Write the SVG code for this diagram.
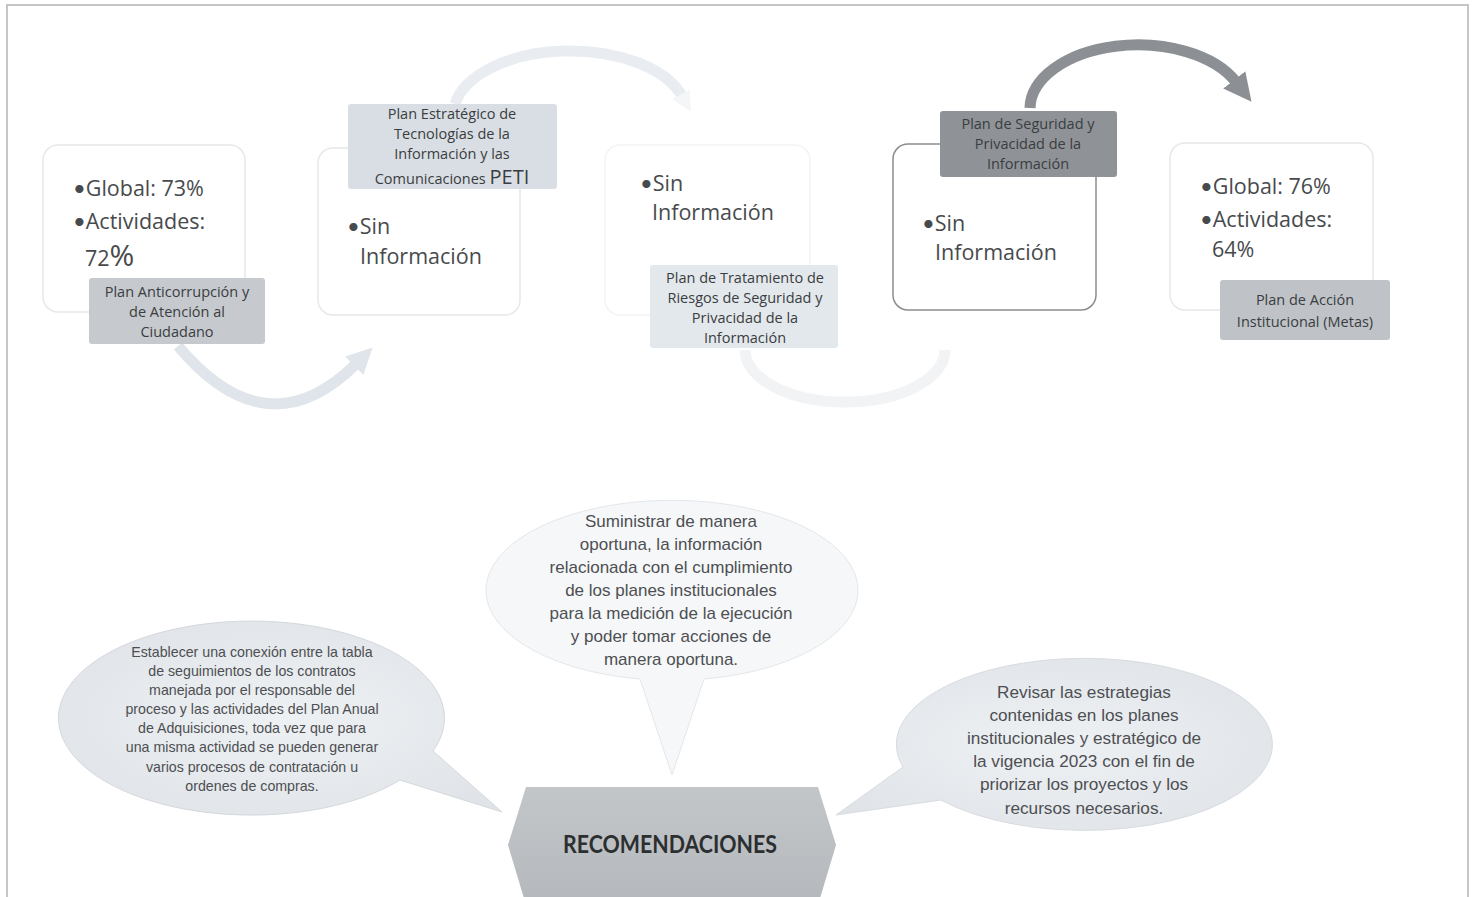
<svg xmlns="http://www.w3.org/2000/svg" width="1476" height="897" viewBox="0 0 1476 897">
<style>
.big{font-family:"Open Sans","Noto Sans",Lato,sans-serif;font-size:21.5px;fill:#474a4d}
.bl{font-family:Lato,"DejaVu Sans",sans-serif;font-size:22px}
.lab{font-family:"Open Sans","Noto Sans",Lato,sans-serif;font-size:14.5px;fill:#3a3d40;text-anchor:middle}
.box{fill:#fff;stroke:#e6e8ea;stroke-width:1.5}
.bub{font-family:"Liberation Sans Narrow","Liberation Sans",Arial,sans-serif;fill:#4d4f52;text-anchor:middle}
.arc{fill:none;stroke-width:11;stroke-linecap:butt}
</style>
<defs>
<marker id="hdFaint" markerUnits="userSpaceOnUse" markerWidth="26" markerHeight="26" viewBox="0 0 10 10" refX="1" refY="5" orient="auto"><path d="M0,0 L10,5 L0,10 z" fill="#dfe5ea"/></marker>
<marker id="hdFaint2" markerUnits="userSpaceOnUse" markerWidth="20" markerHeight="20" viewBox="0 0 10 10" refX="1" refY="5" orient="auto"><path d="M0,0 L10,5 L0,10 z" fill="#f4f6f8"/></marker>
<marker id="hdGray" markerUnits="userSpaceOnUse" markerWidth="28" markerHeight="28" viewBox="0 0 10 10" refX="1" refY="5" orient="auto"><path d="M0,0 L10,5 L0,10 z" fill="#8c9094"/></marker>
<linearGradient id="hexG" x1="0" y1="0" x2="0" y2="1"><stop offset="0" stop-color="#c3c6c9"/><stop offset="1" stop-color="#b4b8bc"/></linearGradient>
<radialGradient id="bubG" cx="0.5" cy="0.5" r="0.6"><stop offset="0" stop-color="#eef1f4"/><stop offset="1" stop-color="#e0e4e8"/></radialGradient>
</defs>
<rect x="7" y="5" width="1461" height="910" fill="#fff" stroke="#c6c6c6" stroke-width="2"/>

<g id="connectors">
<path class="arc" d="M178 346 Q267 452 356 364" stroke="#dfe5ea" marker-end="url(#hdFaint)"/>
<path class="arc" d="M455 104 A117 64 0 0 1 682 96" stroke="#e9edf1" marker-end="url(#hdFaint2)"/>
<path class="arc" d="M745 350 A100 52 0 0 0 945 350" stroke="#f1f3f5"/>
<path class="arc" d="M1030 108 A108 64 0 0 1 1236 82" stroke="#8c9094" marker-end="url(#hdGray)"/>
</g>

<g id="node1">
<rect class="box" x="43" y="145" width="202" height="167" rx="15"/>
<text class="big" x="73" y="196"><tspan class="bl">•</tspan>Global: 73%</text>
<text class="big" x="73" y="229"><tspan class="bl">•</tspan>Actividades:</text>
<text class="big" x="85" y="266">72<tspan font-size="30">%</tspan></text>
<rect x="89" y="278" width="176" height="66" rx="3" fill="#c6cacf"/>
<text class="lab" x="177" y="297">Plan Anticorrupción y</text>
<text class="lab" x="177" y="317">de Atención al</text>
<text class="lab" x="177" y="337">Ciudadano</text>
</g>

<g id="node2">
<rect class="box" x="318" y="148" width="202" height="167" rx="15"/>
<text class="big" x="347" y="234"><tspan class="bl">•</tspan>Sin</text>
<text class="big" x="360" y="264">Información</text>
<rect x="348" y="104" width="209" height="85" rx="3" fill="#d9dee4"/>
<text class="lab" x="452" y="119">Plan Estratégico de</text>
<text class="lab" x="452" y="139">Tecnologías de la</text>
<text class="lab" x="452" y="159">Información y las</text>
<text class="lab" x="452" y="184">Comunicaciones <tspan font-size="20">PETI</tspan></text>
</g>

<g id="node3">
<rect x="605" y="145" width="205" height="170" rx="15" fill="#fff" stroke="#f3f4f5" stroke-width="1.5"/>
<text class="big" x="640" y="191"><tspan class="bl">•</tspan>Sin</text>
<text class="big" x="652" y="220">Información</text>
<rect x="650" y="265" width="188" height="83" rx="3" fill="#e3e8ed"/>
<text class="lab" x="745" y="283">Plan de Tratamiento de</text>
<text class="lab" x="745" y="303">Riesgos de Seguridad y</text>
<text class="lab" x="745" y="323">Privacidad de la</text>
<text class="lab" x="745" y="343">Información</text>
</g>

<g id="node4">
<rect x="893" y="144" width="203" height="166" rx="15" fill="#fff" stroke="#8a8d90" stroke-width="1.5"/>
<text class="big" x="922" y="231"><tspan class="bl">•</tspan>Sin</text>
<text class="big" x="935" y="260">Información</text>
<rect x="940" y="111" width="177" height="66" rx="3" fill="#8f9397"/>
<text class="lab" x="1028" y="129" fill="#2e3033">Plan de Seguridad y</text>
<text class="lab" x="1028" y="149" fill="#2e3033">Privacidad de la</text>
<text class="lab" x="1028" y="169" fill="#2e3033">Información</text>
</g>

<g id="node5">
<rect class="box" x="1170" y="143" width="203" height="167" rx="15"/>
<text class="big" x="1200" y="194"><tspan class="bl">•</tspan>Global: 76%</text>
<text class="big" x="1200" y="227"><tspan class="bl">•</tspan>Actividades:</text>
<text class="big" x="1212" y="257">64%</text>
<rect x="1220" y="280" width="170" height="60" rx="3" fill="#bfc3c8"/>
<text class="lab" x="1305" y="305">Plan de Acción</text>
<text class="lab" x="1305" y="327">Institucional (Metas)</text>
</g>

<g id="bubble-left">
<path d="M433 751 L502 812 L400 780 A193 97 0 1 1 433 751 Z" fill="url(#bubG)" stroke="#d4d8dc" stroke-width="1"/>
<g class="bub" font-size="14.2">
<text x="252" y="657">Establecer una conexión entre la tabla</text>
<text x="252" y="676">de seguimientos de los contratos</text>
<text x="252" y="695">manejada por el responsable del</text>
<text x="252" y="714">proceso y las actividades del Plan Anual</text>
<text x="252" y="733">de Adquisiciones, toda vez que para</text>
<text x="252" y="752">una misma actividad se pueden generar</text>
<text x="252" y="772">varios procesos de contratación u</text>
<text x="252" y="791">ordenes de compras.</text>
</g>
</g>

<g id="bubble-middle">
<path d="M640 679 L672 775 L704 679 A186 90 0 1 0 640 679 Z" fill="#f5f7f9" stroke="#e4e7ea" stroke-width="1"/>
<g class="bub" font-size="17">
<text x="671" y="527">Suministrar de manera</text>
<text x="671" y="550">oportuna, la información</text>
<text x="671" y="573">relacionada con el cumplimiento</text>
<text x="671" y="596">de los planes institucionales</text>
<text x="671" y="619">para la medición de la ejecución</text>
<text x="671" y="642">y poder tomar acciones de</text>
<text x="671" y="665">manera oportuna.</text>
</g>
</g>

<g id="bubble-right">
<path d="M903 767 L836 815 L941 800 A188 86 0 1 0 903 767 Z" fill="url(#bubG)" stroke="#d8dce0" stroke-width="1"/>
<g class="bub" font-size="17.2">
<text x="1084" y="698">Revisar las estrategias</text>
<text x="1084" y="721">contenidas en los planes</text>
<text x="1084" y="744">institucionales y estratégico de</text>
<text x="1084" y="767">la vigencia 2023 con el fin de</text>
<text x="1084" y="790">priorizar los proyectos y los</text>
<text x="1084" y="814">recursos necesarios.</text>
</g>
</g>

<g id="recomendaciones">
<polygon points="526,787 818,787 836,845 818,905 526,905 508,845" fill="url(#hexG)"/>
<text x="670" y="853" text-anchor="middle" font-family="Lato,'Open Sans',sans-serif" font-weight="bold" font-size="24" fill="#2c2e30" textLength="214" lengthAdjust="spacingAndGlyphs">RECOMENDACIONES</text>
</g>
</svg>
